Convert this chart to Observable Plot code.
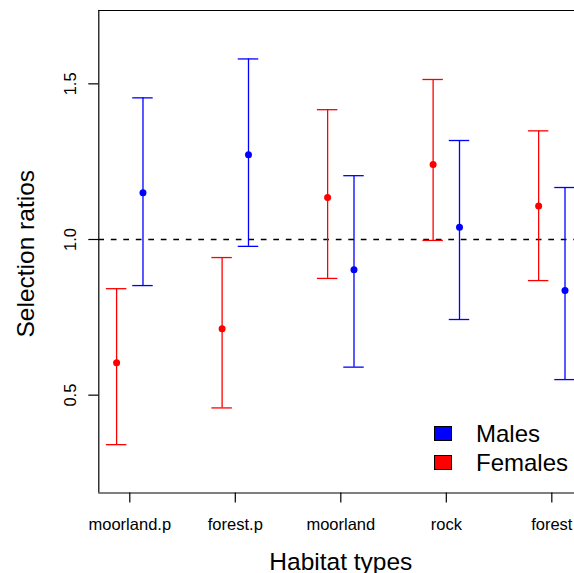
<!DOCTYPE html>
<html>
<head>
<meta charset="utf-8">
<script src="https://cdn.jsdelivr.net/npm/d3@7"></script>
<script src="https://cdn.jsdelivr.net/npm/@observablehq/plot@0.6"></script>
<style>
  body { margin: 0; background: #fff; }
  #wrap { position: relative; width: 574px; height: 573px; overflow: hidden;
          font-family: "Liberation Sans", Arial, Helvetica, sans-serif; }
  #legend { position: absolute; left: 434px; top: 419px; }
  .row { display: flex; align-items: center; height: 29px; line-height: 29px; font-size: 24px; color: #000; }
  .sw { width: 16px; height: 13px; border: 1px solid #000; margin-right: 24px; }
</style>
</head>
<body>
<div id="wrap"><div id="legend"></div></div>
<script>
// ---- data ----
const habitats    = ["moorland.p", "forest.p", "moorland", "rock", "forest"];
const femaleMean  = [0.604, 0.713, 1.135, 1.241, 1.108];
const femaleLower = [0.341, 0.459, 0.875, 0.997, 0.868];
const femaleUpper = [0.842, 0.942, 1.417, 1.514, 1.349];
const maleMean    = [1.150, 1.272, 0.903, 1.039, 0.836];
const maleLower   = [0.852, 0.978, 0.590, 0.743, 0.550];
const maleUpper   = [1.455, 1.580, 1.205, 1.318, 1.167];
const xTicks = [1, 2, 3, 4, 5];
const yTicks = [0.5, 1.0, 1.5];
const legendLabels = ["Males", "Females"];
const legendColors = ["#0000ff", "#ff0000"];
const refLine = [1];

// ---- layout ----
const offset = 0.125, cap = 0.097;
const xDomain = [0.7062, 5.215];
const yDomain = [0.1857, 1.7356];

const rows = [];
habitats.forEach((h, i) => {
  rows.push({habitat: h, pos: i + 1 - offset, sex: "Females", mean: femaleMean[i], lo: femaleLower[i], hi: femaleUpper[i]});
  rows.push({habitat: h, pos: i + 1 + offset, sex: "Males", mean: maleMean[i], lo: maleLower[i], hi: maleUpper[i]});
});

const lw = 1.3;
const chart = Plot.plot({
  width: 574, height: 573,
  marginLeft: 98.3, marginRight: 0, marginTop: 10, marginBottom: 80.5,
  style: {fontFamily: '"Liberation Sans", Arial, Helvetica, sans-serif', fontSize: "16px", background: "white", color: "black"},
  x: {domain: xDomain, axis: null},
  y: {domain: yDomain, axis: null},
  color: {domain: legendLabels, range: legendColors},
  marks: [
    Plot.ruleY(refLine, {stroke: "black", strokeDasharray: "5.7,6.8", strokeWidth: lw}),
    Plot.ruleX(rows, {x: "pos", y1: "lo", y2: "hi", stroke: "sex", strokeWidth: lw}),
    Plot.ruleY(rows, {y: "lo", x1: d => d.pos - cap, x2: d => d.pos + cap, stroke: "sex", strokeWidth: lw}),
    Plot.ruleY(rows, {y: "hi", x1: d => d.pos - cap, x2: d => d.pos + cap, stroke: "sex", strokeWidth: lw}),
    Plot.dot(rows, {x: "pos", y: "mean", fill: "sex", r: 3.5}),
    Plot.ruleX([xDomain[0]], {stroke: "black", strokeWidth: 1.2}),
    Plot.ruleY([yDomain[0], yDomain[1]], {stroke: "black", strokeWidth: 1.2}),
    Plot.axisX({ticks: xTicks, tickFormat: i => habitats[i - 1], tickSize: 10, tickPadding: 15.5, fontSize: 16.5, label: null, strokeWidth: 1.2}),
    Plot.axisY({ticks: yTicks, tickFormat: d => d.toFixed(1), tickSize: 10, tickPadding: 13, tickRotate: -90, fontSize: 16.5, label: null, strokeWidth: 1.2}),
    Plot.text(["Habitat types"], {text: d => d, x: () => 3, frameAnchor: "bottom", dy: 77, lineAnchor: "bottom", fontSize: 24.5}),
    Plot.text(["Selection ratios"], {text: d => d, frameAnchor: "left", dx: -65.3, dy: 2, rotate: -90, textAnchor: "middle", lineAnchor: "bottom", fontSize: 24.5})
  ]
});
const wrap = document.getElementById("wrap");
wrap.insertBefore(chart, wrap.firstChild);

const legend = document.getElementById("legend");
legendLabels.forEach((lab, i) => {
  const row = document.createElement("div");
  row.className = "row";
  const sw = document.createElement("div");
  sw.className = "sw";
  sw.style.background = legendColors[i];
  const t = document.createElement("span");
  t.textContent = lab;
  row.appendChild(sw);
  row.appendChild(t);
  legend.appendChild(row);
});
</script>
</body>
</html>
